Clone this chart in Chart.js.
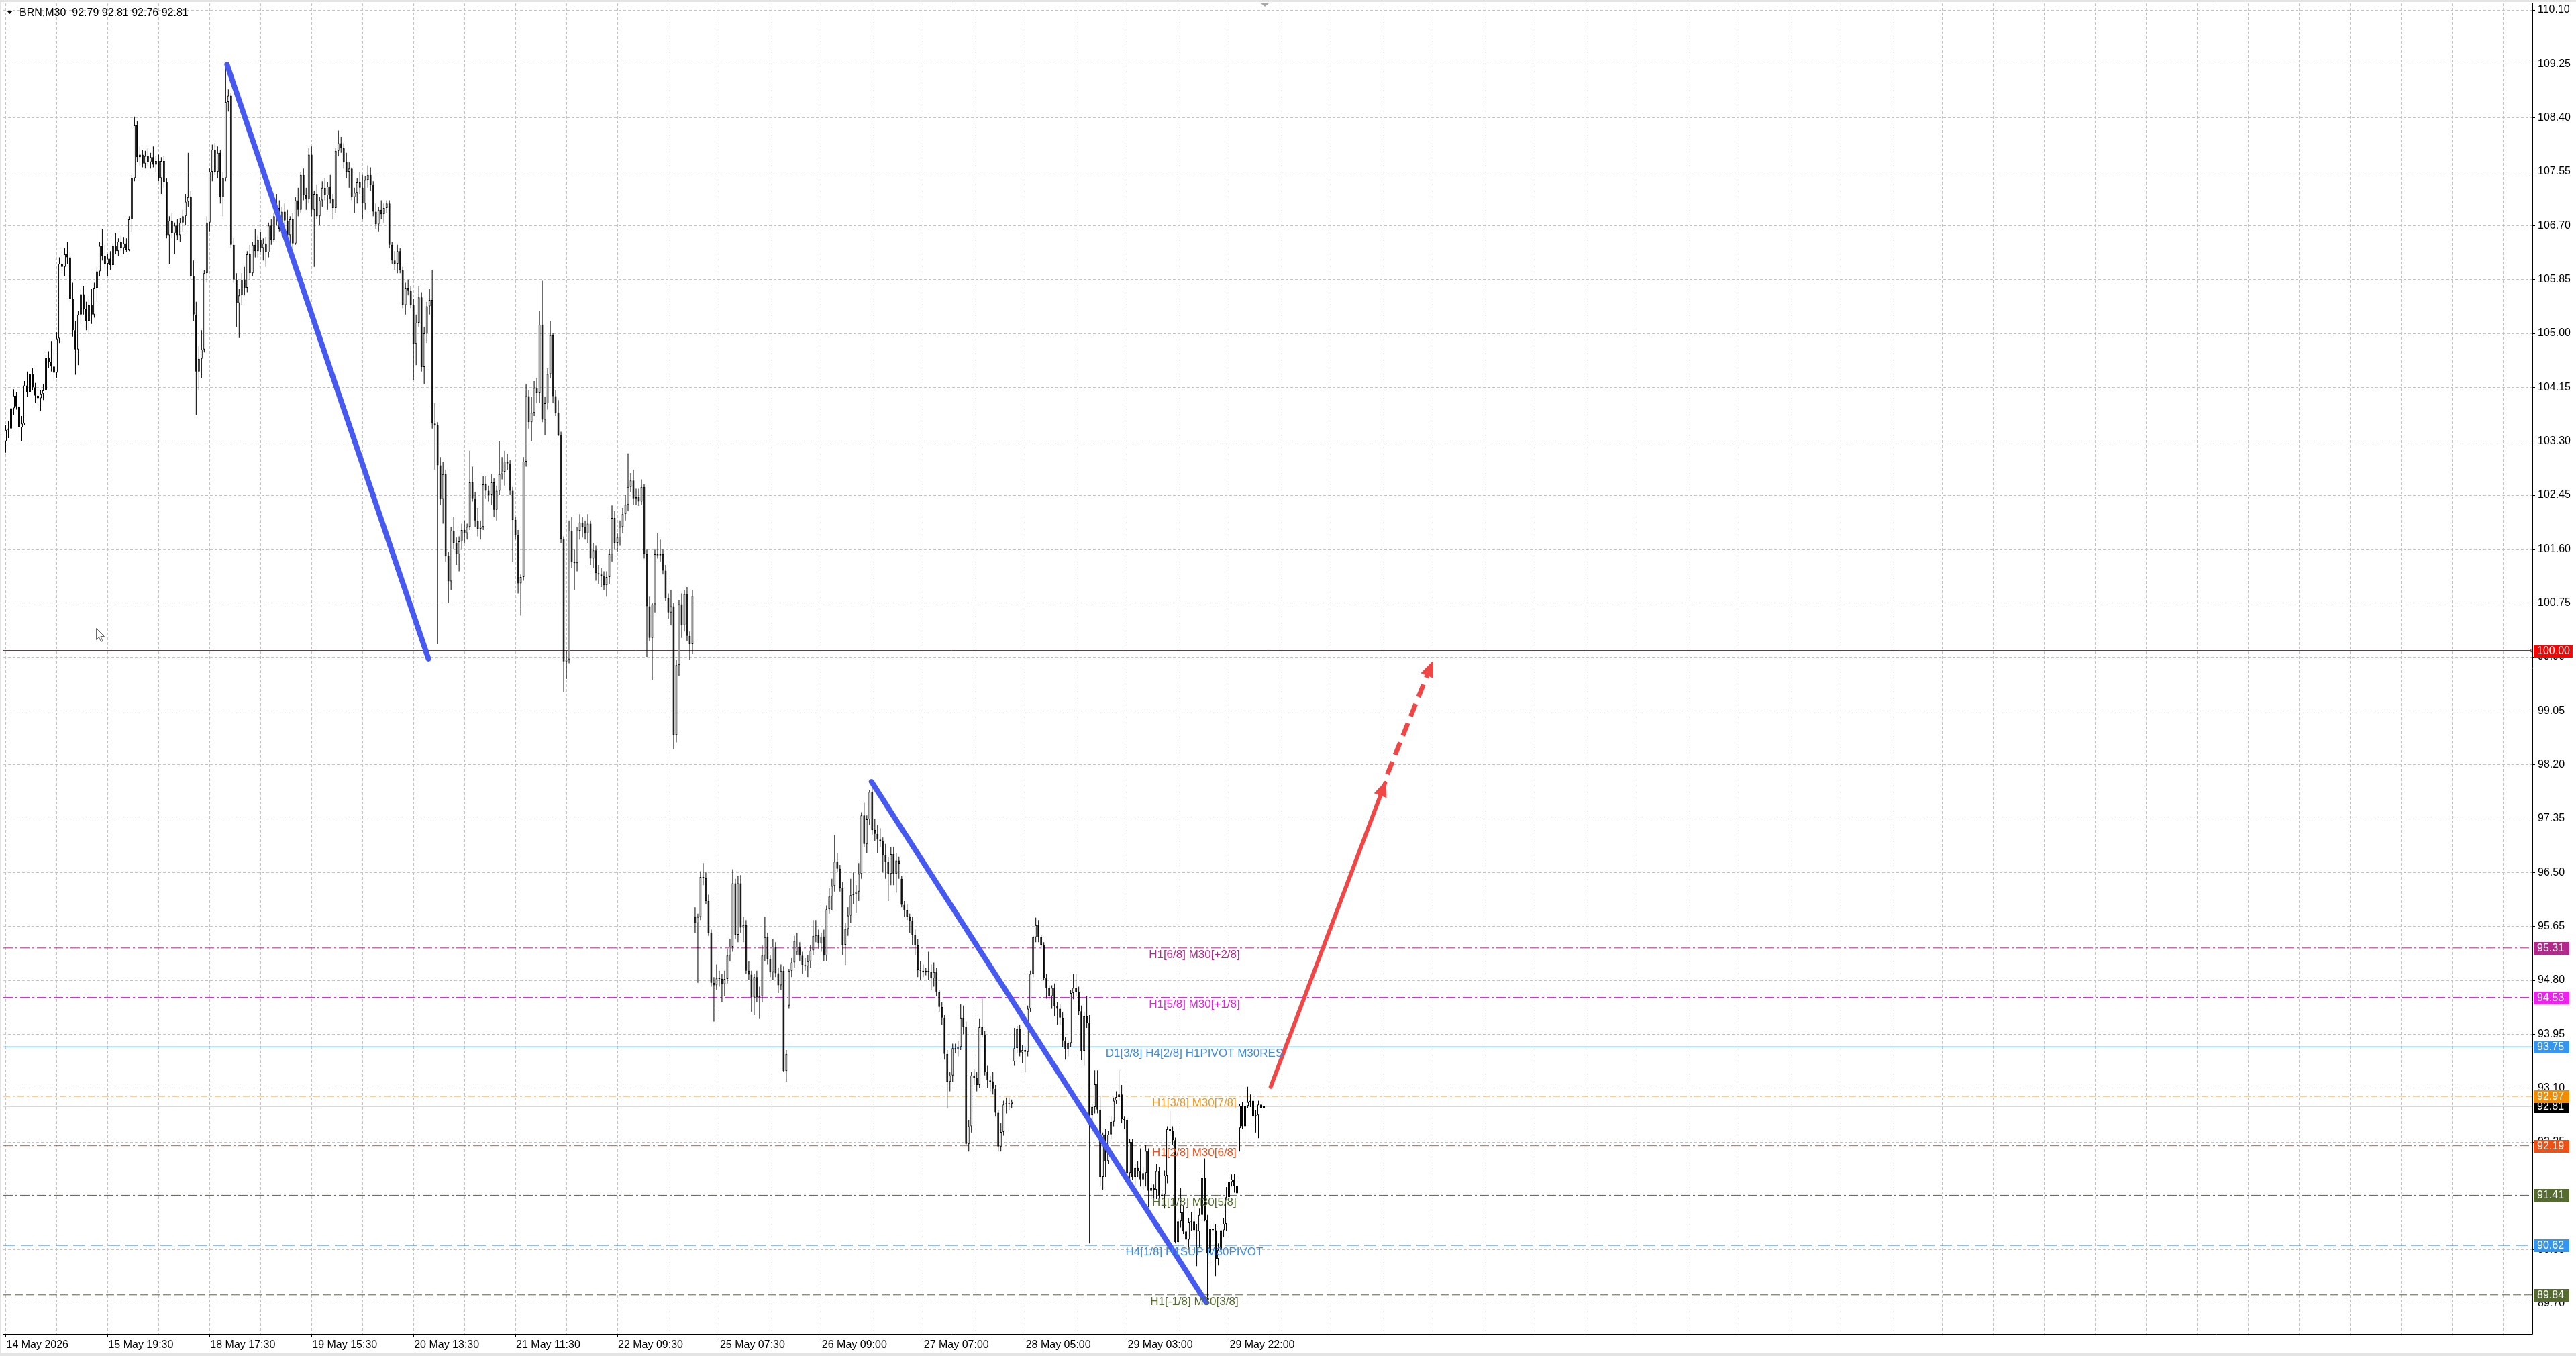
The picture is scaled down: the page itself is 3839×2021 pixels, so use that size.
<!DOCTYPE html>
<html>
<head>
<meta charset="utf-8">
<title>BRN,M30</title>
<script src="https://cdn.jsdelivr.net/npm/chart.js@4.4.1/dist/chart.umd.min.js"></script>
<style>
html, body { margin: 0; padding: 0; background: #ffffff; overflow: hidden; }
canvas { display: block; }
</style>
</head>
<body>
<canvas id="chart" width="3839" height="2021"></canvas>
<script>
"use strict";

// Values, one entry per bar
var symbolName = "BRN,M30";

var timeLabels = [ "14 May 2026", "15 May 19:30", "18 May 17:30", "19 May 15:30", "20 May 13:30",
	"21 May 11:30", "22 May 09:30", "25 May 07:30", "26 May 09:00", "27 May 07:00",
	"28 May 05:00", "29 May 03:00", "29 May 22:00" ];

var priceTicks = [ 110.10, 109.25, 108.40, 107.55, 106.70, 105.85, 105.00, 104.15, 103.30, 102.45,
	101.60, 100.75, 99.90, 99.05, 98.20, 97.35, 96.50, 95.65, 94.80, 93.95, 93.10, 92.25, 91.40, 90.55, 89.70 ];

var opens = [
	103.30,103.48,103.50,103.82,104.02,103.85,103.52,103.58,104.18,104.08,
	104.36,104.15,104.02,103.98,104.05,104.10,104.62,104.55,104.48,104.38,
	104.92,106.10,106.05,106.25,106.20,105.55,105.05,104.75,105.30,105.62,
	105.38,105.20,105.45,105.30,105.72,105.98,106.38,106.22,106.10,106.18,
	106.08,106.38,106.30,106.45,106.35,106.42,106.32,106.80,107.45,108.28,
	107.78,107.82,107.68,107.80,107.70,107.78,107.66,107.72,107.45,107.72,
	107.38,106.55,106.78,106.58,106.70,106.55,106.75,106.85,107.08,107.15,
	105.90,105.30,104.40,104.60,104.75,105.95,106.75,107.55,107.90,107.55,
	107.85,107.15,107.45,108.65,108.75,106.40,105.85,105.48,105.60,105.85,
	105.72,106.25,105.95,106.40,106.30,106.48,106.35,106.42,106.28,106.70,
	106.48,106.85,106.98,106.65,106.92,106.78,106.55,106.80,106.42,107.10,
	106.95,107.50,107.18,107.12,107.82,106.95,107.20,106.85,107.10,107.30,
	107.18,107.32,107.12,106.98,107.88,108.00,107.92,107.70,107.55,107.60,
	107.15,107.22,107.38,107.30,107.05,107.42,107.50,107.35,106.92,106.72,
	106.95,106.88,106.98,107.05,106.40,106.15,106.10,106.30,106.00,105.45,
	105.72,105.68,105.45,104.84,105.17,105.57,104.47,105.00,105.43,105.53,
	103.58,103.55,102.92,102.39,102.78,101.49,101.09,101.89,101.70,101.52,
	101.72,101.90,101.85,101.95,102.65,102.40,102.05,101.92,101.95,102.62,
	102.52,102.45,102.65,102.22,102.52,102.78,102.82,102.98,102.95,102.52,
	102.06,101.82,101.06,101.16,102.98,104.01,103.60,103.75,104.14,104.07,
	105.14,103.64,103.90,104.36,104.97,104.01,103.75,103.40,101.76,99.83,
	99.86,101.89,101.40,101.38,101.89,102.02,101.95,101.85,102.00,101.45,
	101.58,101.22,101.20,101.18,101.03,101.16,101.52,102.09,101.70,101.78,
	101.95,102.15,102.30,102.58,102.68,102.40,102.42,102.35,102.58,101.52,
	100.70,100.20,100.73,101.52,101.50,101.52,101.26,100.82,100.60,100.70,
	98.67,99.77,100.73,100.40,100.89,100.23,100.10,95.80,95.70,95.80,
	96.43,96.41,96.05,95.55,94.76,94.72,94.83,94.82,94.74,94.82,
	95.19,95.33,96.33,95.52,96.33,95.63,95.67,94.95,94.89,94.53,
	94.85,94.53,94.55,95.19,95.48,95.14,94.93,95.33,94.91,94.72,
	94.95,93.37,94.40,94.95,95.08,95.25,95.33,95.19,95.04,95.02,
	95.10,95.27,95.50,95.51,95.38,95.49,95.19,95.92,96.12,96.29,
	96.67,96.56,96.26,95.36,95.61,95.82,96.14,96.16,96.20,96.48,
	97.40,96.95,97.34,97.77,97.17,97.11,97.02,97.00,96.77,96.67,
	96.48,96.79,96.48,96.69,96.40,95.99,95.90,95.80,95.73,95.52,
	95.35,94.97,94.95,94.93,94.95,94.93,94.83,94.93,94.61,94.38,
	94.21,93.64,93.20,93.30,93.73,93.71,93.75,94.21,94.07,92.22,
	92.50,93.30,93.26,93.15,94.06,93.94,93.35,93.22,93.20,93.09,
	92.71,92.18,92.41,92.84,92.86,92.85,93.52,93.73,94.03,93.66,
	93.70,93.67,94.35,94.90,95.48,95.67,95.48,95.36,94.84,94.68,
	94.55,94.68,94.39,94.35,94.21,93.85,93.71,93.81,94.60,94.68,
	94.62,94.31,93.69,94.23,94.13,92.67,92.80,93.16,92.76,91.70,
	92.37,91.95,92.37,92.57,92.90,92.96,93.00,92.61,92.60,91.76,
	92.25,91.70,91.84,91.79,91.66,91.76,92.11,91.48,91.52,91.50,
	91.79,91.40,91.42,91.72,92.45,92.43,92.28,90.67,91.00,91.14,
	90.84,90.71,90.98,91.00,90.86,90.84,91.10,91.68,91.02,90.49,
	90.88,90.86,90.41,90.55,90.86,90.96,91.38,91.62,91.66,91.56,
	92.47,92.82,92.50,92.82,92.88,92.90,92.65,92.67,92.84,92.79 ];

var highs = [
	103.55,103.62,103.88,104.12,104.08,103.90,103.70,104.25,104.40,104.42,
	104.45,104.22,104.15,104.10,104.20,104.70,104.72,104.88,104.75,105.02,
	106.20,106.30,106.35,106.45,106.28,105.80,105.20,105.35,105.70,105.75,
	105.50,105.55,105.70,105.80,106.05,106.45,106.65,106.40,106.25,106.30,
	106.42,106.58,106.50,106.55,106.52,106.50,106.85,107.50,108.42,108.35,
	107.95,107.90,107.88,107.92,107.85,107.95,107.80,107.82,107.78,107.80,
	107.45,106.85,106.90,106.75,106.80,106.82,106.95,107.20,107.85,107.25,
	106.15,105.50,104.80,105.05,106.00,106.85,107.60,107.98,108.00,107.95,
	107.90,107.55,109.24,108.85,108.80,106.50,105.95,105.70,105.95,106.05,
	106.30,106.40,106.45,106.65,106.55,106.60,106.50,106.52,106.75,106.80,
	106.90,107.20,107.10,107.00,107.05,106.95,106.85,106.90,107.15,107.30,
	107.55,107.60,107.30,107.92,107.95,107.25,107.35,107.15,107.40,107.45,
	107.38,107.50,107.20,107.92,108.20,108.10,108.00,107.85,107.70,107.62,
	107.30,107.45,107.55,107.50,107.48,107.65,107.62,107.40,107.05,107.00,
	107.10,107.05,107.10,107.10,106.45,106.30,106.40,106.35,106.05,105.80,
	105.85,105.75,105.55,105.30,105.75,105.65,105.10,105.50,105.70,106.00,
	103.90,103.60,103.05,102.98,102.85,101.55,101.95,102.10,101.78,101.80,
	102.00,102.05,102.00,103.15,102.90,102.50,102.25,102.05,102.75,102.75,
	102.60,102.78,102.72,102.60,103.30,103.05,103.15,103.10,103.00,102.58,
	102.10,101.90,101.20,103.05,104.20,104.10,104.00,104.25,104.30,105.35,
	105.83,104.00,104.45,105.20,105.00,104.10,103.95,103.45,101.80,100.00,
	102.05,102.10,101.60,101.95,102.15,102.10,102.05,102.15,102.05,101.70,
	101.65,101.35,101.30,101.25,101.25,101.60,102.29,102.20,101.85,102.05,
	102.25,102.45,103.11,102.80,102.85,102.55,102.55,102.70,102.62,101.60,
	100.85,100.75,101.60,101.85,101.75,101.60,101.35,100.90,100.95,100.75,
	99.85,100.80,100.90,100.95,101.00,100.30,100.95,95.95,95.85,96.52,
	96.65,96.50,96.15,95.60,94.85,95.05,94.95,94.90,94.95,95.30,
	95.45,96.55,96.40,96.45,96.46,95.80,95.75,95.10,94.95,94.90,
	94.95,94.70,95.35,95.80,95.55,95.20,95.45,95.40,95.00,95.05,
	95.02,93.70,94.98,95.15,95.50,95.55,95.40,95.25,95.15,95.20,
	95.35,95.75,95.75,95.60,95.55,95.60,95.98,96.25,96.40,97.09,
	96.80,96.62,96.35,95.70,95.95,96.40,96.50,96.30,96.65,97.45,
	97.60,97.40,97.80,97.85,97.35,97.25,97.20,97.05,96.95,96.75,
	96.90,96.90,96.80,96.75,96.45,96.05,96.00,95.85,95.80,95.60,
	95.45,95.10,95.05,95.00,95.25,95.05,95.08,95.00,94.65,94.45,
	94.25,93.70,93.35,93.80,93.80,93.85,94.42,94.40,94.15,92.60,
	93.35,93.40,93.35,94.20,94.51,94.00,93.45,93.30,93.35,93.15,
	92.75,92.55,92.90,92.95,92.95,92.92,94.05,94.08,94.10,93.78,
	93.75,94.40,94.95,95.50,95.79,95.75,95.52,95.40,94.90,94.72,
	94.72,94.75,94.45,94.42,94.30,93.90,93.85,94.65,94.90,94.90,
	94.70,94.40,94.30,94.55,94.25,92.85,93.38,93.38,92.98,92.40,
	92.45,92.42,92.65,92.95,93.05,93.38,93.15,92.65,92.62,92.30,
	92.30,91.90,91.95,92.15,91.85,92.20,92.15,91.60,91.58,91.90,
	91.85,91.50,91.80,92.50,92.74,92.50,92.32,91.05,91.52,91.25,
	90.90,91.05,91.15,91.30,90.95,91.20,91.75,91.99,91.10,90.95,
	91.00,90.95,90.65,90.95,91.05,91.54,91.75,91.74,91.75,91.65,
	92.85,92.88,92.88,93.12,93.00,93.05,92.75,92.90,93.02,92.81 ];

var lows = [
	103.12,103.35,103.45,103.72,103.80,103.40,103.30,103.55,104.00,104.05,
	104.10,103.90,103.88,103.78,103.95,104.05,104.45,104.40,104.25,104.30,
	104.85,105.95,105.90,106.10,105.50,104.95,104.35,104.50,105.15,105.30,
	105.05,105.00,105.15,105.25,105.50,105.90,106.15,106.02,105.90,106.00,
	106.05,106.25,106.22,106.30,106.25,106.28,106.30,106.60,107.40,107.70,
	107.65,107.62,107.60,107.65,107.60,107.62,107.55,107.40,107.20,107.30,
	106.50,106.10,106.50,106.25,106.48,106.45,106.60,106.70,107.00,105.85,
	105.20,103.72,104.10,104.30,104.70,105.80,106.60,107.40,107.50,107.45,
	107.05,106.85,107.40,108.50,106.35,105.80,105.10,104.93,105.45,105.60,
	105.65,105.85,105.90,106.20,106.20,106.28,106.15,106.05,106.20,106.40,
	106.45,106.70,106.60,106.55,106.70,106.45,106.30,106.35,106.40,106.85,
	106.90,107.10,106.95,107.05,106.85,106.05,106.80,106.70,107.00,107.10,
	106.95,107.05,106.80,106.90,107.80,107.85,107.60,107.45,107.30,107.10,
	106.90,107.05,107.20,106.80,106.95,107.30,107.25,106.85,106.65,106.60,
	106.80,106.75,106.90,106.35,106.10,106.00,105.95,105.95,105.40,105.30,
	105.60,105.40,104.27,104.50,105.10,104.40,104.20,104.85,105.30,103.50,
	102.85,100.10,102.30,102.00,101.40,100.75,100.95,101.60,101.35,101.25,
	101.60,101.70,101.75,101.90,102.35,101.95,101.80,101.75,101.90,102.40,
	102.35,102.30,102.10,102.05,102.45,102.70,102.60,102.85,102.45,101.40,
	101.75,100.90,100.55,101.10,102.90,103.50,103.30,103.70,103.90,103.90,
	103.60,103.40,103.80,104.30,103.90,103.70,103.38,101.70,99.34,99.55,
	99.80,101.30,100.95,101.25,101.75,101.78,101.75,101.70,101.35,101.30,
	101.10,101.05,101.00,100.95,100.85,101.05,101.40,101.60,101.55,101.65,
	101.85,102.05,102.20,102.50,102.30,102.30,102.28,102.30,101.45,99.90,
	100.15,99.54,100.60,101.45,101.40,101.20,100.78,100.50,100.40,98.44,
	98.55,99.60,100.20,100.30,100.15,99.85,99.95,95.55,94.76,95.75,
	96.30,96.00,95.50,94.70,94.15,94.65,94.70,94.45,94.55,94.75,
	95.10,95.25,95.45,95.40,95.55,95.40,94.90,94.80,94.30,94.25,
	94.45,94.20,94.45,95.10,95.05,94.85,94.80,94.85,94.60,94.65,
	93.35,93.20,94.35,94.85,95.00,95.20,95.10,94.90,94.95,94.85,
	95.00,95.20,95.40,95.30,95.25,95.10,95.10,95.85,95.90,96.20,
	96.50,96.20,95.20,95.04,95.50,95.70,96.00,95.86,96.05,96.40,
	96.90,96.80,97.25,97.10,97.00,96.80,96.90,96.50,96.40,96.05,
	96.30,96.30,96.18,96.40,95.95,95.80,95.75,95.55,95.35,95.20,
	94.85,94.80,94.85,94.88,94.80,94.65,94.70,94.55,94.30,94.10,
	93.55,92.78,93.05,93.20,93.65,93.60,93.70,93.95,92.20,92.10,
	92.40,93.15,93.05,93.10,93.90,93.30,93.10,93.05,93.00,92.65,
	92.10,92.10,92.35,92.70,92.75,92.78,93.45,93.65,93.60,93.50,
	93.35,93.60,94.30,94.85,95.40,95.40,95.30,94.80,94.51,94.50,
	94.35,94.23,94.10,94.10,93.75,93.55,93.60,93.75,94.50,94.55,
	94.25,93.54,93.45,94.05,90.65,92.40,92.70,92.70,91.55,91.50,
	91.70,91.90,92.30,92.50,92.85,92.90,92.55,92.45,91.70,91.55,
	91.65,91.55,91.70,91.55,91.50,91.55,91.22,91.35,91.30,91.35,
	91.35,91.25,91.20,91.60,92.35,92.20,90.65,90.55,90.90,90.80,
	90.45,90.55,90.85,90.75,90.29,90.60,91.00,91.00,89.72,90.30,
	90.70,90.13,90.30,90.40,90.75,90.85,91.30,91.55,91.45,91.35,
	92.10,92.45,92.13,92.78,92.80,92.55,92.40,92.31,92.75,92.76 ];

var closes = [
	103.48,103.50,103.82,104.02,103.85,103.52,103.58,104.18,104.08,104.36,
	104.15,104.02,103.98,104.05,104.10,104.62,104.55,104.48,104.38,104.92,
	106.10,106.05,106.25,106.20,105.55,105.05,104.75,105.30,105.62,105.38,
	105.20,105.45,105.30,105.72,105.98,106.38,106.22,106.10,106.18,106.08,
	106.38,106.30,106.45,106.35,106.42,106.32,106.80,107.45,108.28,107.78,
	107.82,107.68,107.80,107.70,107.78,107.66,107.72,107.45,107.72,107.38,
	106.55,106.78,106.58,106.70,106.55,106.75,106.85,107.08,107.15,105.90,
	105.30,104.40,104.60,104.75,105.95,106.75,107.55,107.90,107.55,107.85,
	107.15,107.45,108.65,108.75,106.40,105.85,105.48,105.60,105.85,105.72,
	106.25,105.95,106.40,106.30,106.48,106.35,106.42,106.28,106.70,106.48,
	106.85,106.98,106.65,106.92,106.78,106.55,106.80,106.42,107.10,106.95,
	107.50,107.18,107.12,107.82,106.95,107.20,106.85,107.10,107.30,107.18,
	107.32,107.12,106.98,107.88,108.00,107.92,107.70,107.55,107.60,107.15,
	107.22,107.38,107.30,107.05,107.42,107.50,107.35,106.92,106.72,106.95,
	106.88,106.98,107.05,106.40,106.15,106.10,106.30,106.00,105.45,105.72,
	105.68,105.45,104.84,105.17,105.57,104.47,105.00,105.43,105.53,103.58,
	103.55,102.92,102.39,102.78,101.49,101.09,101.89,101.70,101.52,101.72,
	101.90,101.85,101.95,102.65,102.40,102.05,101.92,101.95,102.62,102.52,
	102.45,102.65,102.22,102.52,102.78,102.82,102.98,102.95,102.52,102.06,
	101.82,101.06,101.16,102.98,104.01,103.60,103.75,104.14,104.07,105.14,
	103.64,103.90,104.36,104.97,104.01,103.75,103.40,101.76,99.83,99.86,
	101.89,101.40,101.38,101.89,102.02,101.95,101.85,102.00,101.45,101.58,
	101.22,101.20,101.18,101.03,101.16,101.52,102.09,101.70,101.78,101.95,
	102.15,102.30,102.58,102.68,102.40,102.42,102.35,102.58,101.52,100.70,
	100.20,100.73,101.52,101.50,101.52,101.26,100.82,100.60,100.70,98.67,
	99.77,100.73,100.40,100.89,100.23,100.10,100.86,95.70,95.80,96.43,
	96.41,96.05,95.55,94.76,94.72,94.83,94.82,94.74,94.82,95.19,
	95.33,96.33,95.52,96.33,95.63,95.67,94.95,94.89,94.53,94.85,
	94.53,94.55,95.19,95.48,95.14,94.93,95.33,94.91,94.72,94.95,
	93.37,93.64,94.95,95.08,95.42,95.33,95.19,95.04,95.02,95.10,
	95.27,95.50,95.51,95.38,95.49,95.19,95.92,96.12,96.29,96.67,
	96.56,96.26,95.36,95.61,95.82,96.14,96.16,96.20,96.48,97.40,
	96.95,97.34,97.77,97.17,97.11,97.02,97.00,96.77,96.67,96.48,
	96.79,96.48,96.69,96.64,95.99,95.90,95.80,95.73,95.52,95.35,
	94.97,94.95,94.93,94.95,94.93,94.83,94.93,94.61,94.38,94.21,
	93.64,93.20,93.30,93.73,93.71,93.75,94.21,94.07,92.22,92.50,
	93.30,93.26,93.15,94.06,93.94,93.35,93.22,93.20,93.09,92.71,
	92.18,92.41,92.84,92.86,92.85,92.88,93.73,94.03,93.66,93.70,
	93.67,94.35,94.90,95.48,95.67,95.48,95.36,94.84,94.68,94.55,
	94.68,94.39,94.35,94.21,93.85,93.71,93.81,94.60,94.68,94.62,
	94.31,93.69,94.23,94.13,92.67,92.80,93.16,92.76,91.70,92.37,
	91.95,92.37,92.57,92.90,92.96,93.00,92.61,92.60,91.76,92.25,
	91.70,91.84,91.79,91.66,91.76,92.11,91.48,91.52,91.50,91.79,
	91.40,91.42,91.72,92.45,92.43,92.28,90.67,91.00,91.14,90.84,
	90.71,90.98,91.00,90.86,90.84,91.10,91.68,91.02,90.49,90.88,
	90.86,90.41,90.55,90.86,90.96,91.38,91.62,91.66,91.56,91.44,
	92.82,92.50,92.82,92.88,92.90,92.65,92.67,92.84,92.79,92.81 ];

// Murrey-style levels drawn on the chart, top to bottom
var levelPrices = [ 95.31, 94.53, 93.75, 92.97, 92.19, 91.41, 90.62, 89.84 ];
var levelNames = [ "H1[6/8] M30[+2/8]", "H1[5/8] M30[+1/8]", "D1[3/8] H4[2/8] H1PIVOT M30RES",
	"H1[3/8] M30[7/8]", "H1[2/8] M30[6/8]", "H1[1/8] M30[5/8]", "H4[1/8] H1SUP M30PIVOT", "H1[-1/8] M30[3/8]" ];
var alertPrice = 100.00;

// hand drawn objects, anchored in (bar, price)
var trendOne = [ { x: 82.5, y: 109.24 }, { x: 157.6, y: 99.87 } ];
var trendTwo = [ { x: 322.75, y: 97.93 }, { x: 447.55, y: 89.72 } ];
var targetSolid = [ { x: 471.55, y: 93.12 }, { x: 514.2, y: 97.91 } ];
var targetDashed = [ { x: 515.05, y: 98.05 }, { x: 531.7, y: 99.80 } ];
var levelLabelBar = 443.1;

// Layout and styles
var BARS_PER_LABEL = 38,
	BARS_PER_GRID = 19,
	X_MIN = -0.875,
	X_MAX = 941.875,
	Y_MIN = 89.224,
	Y_MAX = 110.206,
	BLUE = "#4659f0",
	RED = "#f04646",
	FONT = "\"Liberation Sans\", Arial, sans-serif";

var levelColors = [ "#b4288c", "#e61ee6", "#3c8ce6", "#f0961e", "#f0501e", "#556b2f", "#3c8ce6", "#556b2f" ];
var levelBoxColors = [ "#b4288c", "#ee22ee", "#3396f0", "#f28c00", "#f05014", "#556b2f", "#3396f0", "#556b2f" ];
var levelDashes = [ [ 14, 4, 3, 4 ], [ 14, 4, 3, 4 ], [], [ 10, 4, 3, 4 ], [ 14, 4, 3, 4 ], [ 14, 4, 3, 4 ], [ 18, 8 ], [ 12, 5 ] ];

var gridBars = [];
for ( var g = 0; g <= X_MAX; g += BARS_PER_GRID ) {
	gridBars.push( g );
}

var lastBar = closes.length - 1;
var barIndex = closes.map( function( c, i ) { return i; } );

function acrossChart( price ) {
	return [ { x: X_MIN, y: price }, { x: X_MAX, y: price } ];
}

function arrowHead( ctx, from, to, len, half ) {
	var a = Math.atan2( to.y - from.y, to.x - from.x ),
		cos = Math.cos( a ), sin = Math.sin( a ),
		tipX = to.x + cos * 4, tipY = to.y + sin * 4,
		bx = tipX - cos * len, by = tipY - sin * len;
	ctx.beginPath();
	ctx.moveTo( tipX, tipY );
	ctx.lineTo( bx - sin * half, by + cos * half );
	ctx.lineTo( bx + sin * half, by - cos * half );
	ctx.closePath();
	ctx.fill();
}

function priceBox( ctx, x, y, price, color ) {
	var txt = price.toFixed( 2 ),
		w = Math.max( 53, ctx.measureText( txt ).width + 9 );
	ctx.fillStyle = color;
	ctx.fillRect( x, Math.round( y ) - 9, w, 19 );
	ctx.fillStyle = "#ffffff";
	ctx.fillText( txt, x + 5, Math.round( y ) + 1 );
}

var terminalLook = {
	id: "terminalLook",
	beforeDraw: function( chart ) {
		var ctx = chart.ctx;
		ctx.save();
		ctx.fillStyle = "#ffffff";
		ctx.fillRect( 0, 0, chart.width, chart.height );
		ctx.fillStyle = "#e4e4e4";
		ctx.fillRect( 0, 0, chart.width, 3 );
		ctx.fillRect( 0, 0, 2, chart.height );
		ctx.fillRect( 0, chart.height - 5, chart.width, 5 );
		ctx.restore();
	},
	afterDatasetsDraw: function( chart ) {
		var ctx = chart.ctx,
			xs = chart.scales.x, ys = chart.scales.y,
			px = function( p ) { return { x: xs.getPixelForValue( p.x ), y: ys.getPixelForValue( p.y ) }; };

		ctx.save();
		// arrow heads of the target move
		ctx.fillStyle = RED;
		arrowHead( ctx, px( targetSolid[ 0 ] ), px( targetSolid[ 1 ] ), 24, 10 );
		arrowHead( ctx, px( targetDashed[ 0 ] ), px( targetDashed[ 1 ] ), 24, 10 );

		// level captions
		ctx.font = "17px " + FONT;
		ctx.textAlign = "center";
		ctx.textBaseline = "top";
		var lx = xs.getPixelForValue( levelLabelBar );
		levelPrices.forEach( function( p, i ) {
			ctx.fillStyle = levelColors[ i ];
			ctx.fillText( levelNames[ i ], lx, ys.getPixelForValue( p ) + 2 );
		} );
		ctx.restore();
	},
	afterDraw: function( chart ) {
		var ctx = chart.ctx,
			area = chart.chartArea,
			ys = chart.scales.y,
			boxX = area.right + 2;

		ctx.save();
		// chart frame
		ctx.strokeStyle = "#000000";
		ctx.lineWidth = 1;
		ctx.beginPath();
		ctx.moveTo( area.left - 0.5, area.bottom + 0.5 );
		ctx.lineTo( area.left - 0.5, area.top - 0.5 );
		ctx.lineTo( area.right + 0.5, area.top - 0.5 );
		ctx.lineTo( area.right + 0.5, area.bottom + 0.5 );
		ctx.lineTo( area.left - 0.5, area.bottom + 0.5 );
		ctx.stroke();

		// price tags on the right scale
		ctx.font = "16px " + FONT;
		ctx.textAlign = "left";
		ctx.textBaseline = "middle";
		priceBox( ctx, boxX, ys.getPixelForValue( closes[ lastBar ] ), closes[ lastBar ], "#000000" );
		priceBox( ctx, boxX, ys.getPixelForValue( alertPrice ), alertPrice, "#ff0000" );
		levelPrices.forEach( function( p, i ) {
			priceBox( ctx, boxX, ys.getPixelForValue( p ), p, levelBoxColors[ i ] );
		} );

		// symbol header
		ctx.fillStyle = "#000000";
		ctx.beginPath();
		ctx.moveTo( 10, 16 );
		ctx.lineTo( 19, 16 );
		ctx.lineTo( 14.5, 21 );
		ctx.closePath();
		ctx.fill();
		ctx.textBaseline = "alphabetic";
		ctx.fillText( symbolName + "  " + [ opens[ lastBar ], highs[ lastBar ], lows[ lastBar ], closes[ lastBar ] ]
			.map( function( v ) { return v.toFixed( 2 ); } ).join( " " ), 29, 24 );

		// chart shift marker
		ctx.fillStyle = "#a8a8a8";
		ctx.beginPath();
		ctx.moveTo( 1879, 5 );
		ctx.lineTo( 1891, 5 );
		ctx.lineTo( 1885, 10 );
		ctx.closePath();
		ctx.fill();

		// mouse pointer left on the chart
		ctx.translate( 143.5, 936.5 );
		ctx.beginPath();
		ctx.moveTo( 0, 0 );
		ctx.lineTo( 0, 17 );
		ctx.lineTo( 4, 13 );
		ctx.lineTo( 7, 20 );
		ctx.lineTo( 9.5, 19 );
		ctx.lineTo( 6.5, 12 );
		ctx.lineTo( 12, 12 );
		ctx.closePath();
		ctx.fillStyle = "#ffffff";
		ctx.fill();
		ctx.strokeStyle = "#6a6a6a";
		ctx.stroke();
		ctx.restore();
	}
};

Chart.defaults.font.family = FONT;
Chart.defaults.font.size = 16;
Chart.defaults.color = "#000000";

var datasets = [];

levelPrices.forEach( function( p, i ) {
	datasets.push( { type: "line", data: acrossChart( p ), borderColor: levelColors[ i ], borderWidth: 1,
		borderDash: levelDashes[ i ], pointRadius: 0, order: 10 } );
} );
datasets.push( { type: "line", data: acrossChart( alertPrice ), borderColor: "#d00000", borderWidth: 1,
	pointRadius: [ 0, 3 ], pointStyle: "rect", pointBackgroundColor: "#ffffff", pointBorderColor: "#d00000",
	pointBorderWidth: 1, order: 10 } );
datasets.push( { type: "line", data: acrossChart( closes[ lastBar ] ), borderColor: "#bcbcbc", borderWidth: 1,
	pointRadius: 0, order: 10 } );

// candle wicks, then bodies on top
datasets.push( {
	type: "bar",
	data: barIndex.map( function( i ) { return { x: i, y: [ lows[ i ], highs[ i ] ] }; } ),
	backgroundColor: "#000000",
	borderWidth: 0,
	barThickness: 1,
	grouped: false,
	inflateAmount: 0,
	order: 6
} );
datasets.push( {
	type: "bar",
	data: barIndex.map( function( i ) { return { x: i, y: [ opens[ i ], closes[ i ] ] }; } ),
	backgroundColor: barIndex.map( function( i ) { return closes[ i ] >= opens[ i ] ? "#ffffff" : "#000000"; } ),
	borderColor: "#000000",
	borderWidth: 1,
	borderSkipped: false,
	barThickness: 3,
	minBarLength: 1,
	grouped: false,
	inflateAmount: 0,
	order: 5
} );

// drawn trend lines and the projected move
datasets.push( { type: "line", data: trendOne, borderColor: BLUE, borderWidth: 8, borderCapStyle: "round", pointRadius: 0, order: 1 } );
datasets.push( { type: "line", data: trendTwo, borderColor: BLUE, borderWidth: 8, borderCapStyle: "round", pointRadius: 0, order: 1 } );
datasets.push( { type: "line", data: targetSolid, borderColor: RED, borderWidth: 6, borderCapStyle: "round", pointRadius: 0, order: 0 } );
datasets.push( { type: "line", data: targetDashed, borderColor: RED, borderWidth: 7, borderDash: [ 20, 11 ], borderCapStyle: "butt", pointRadius: 0, order: 0 } );

new Chart( document.getElementById( "chart" ), {
	type: "bar",
	data: { datasets: datasets },
	plugins: [ terminalLook ],
	options: {
		responsive: false,
		animation: false,
		devicePixelRatio: 1,
		events: [],
		layout: { padding: { left: 3, top: 5, right: 0, bottom: 0 } },
		plugins: { legend: { display: false }, tooltip: { enabled: false } },
		scales: {
			x: {
				type: "linear",
				position: "bottom",
				min: X_MIN,
				max: X_MAX,
				offset: false,
				grid: {
					offset: false,
					color: "#c4c4c4",
					lineWidth: 1,
					drawTicks: true,
					tickLength: 5,
					tickWidth: 1,
					tickBorderDash: [],
					tickColor: function( c ) {
						var v = c.tick ? c.tick.value : -1;
						return v % BARS_PER_LABEL === 0 && v / BARS_PER_LABEL < timeLabels.length ? "#000000" : "rgba(0,0,0,0)";
					}
				},
				border: { display: false, dash: [ 4, 3 ] },
				ticks: {
					autoSkip: false,
					maxRotation: 0,
					minRotation: 0,
					align: "start",
					labelOffset: 1,
					padding: 2,
					callback: function( v ) {
						return v % BARS_PER_LABEL === 0 && timeLabels[ v / BARS_PER_LABEL ] ? timeLabels[ v / BARS_PER_LABEL ] : "";
					}
				},
				afterBuildTicks: function( s ) {
					s.ticks = gridBars.map( function( v ) { return { value: v }; } );
				},
				afterFit: function( s ) {
					s.height = 33;
					s.paddingLeft = 0;
					s.paddingRight = 0;
				}
			},
			y: {
				type: "linear",
				position: "right",
				min: Y_MIN,
				max: Y_MAX,
				beginAtZero: false,
				grid: {
					color: "#c4c4c4",
					lineWidth: 1,
					tickLength: 4,
					tickWidth: 1,
					tickColor: "#000000",
					tickBorderDash: []
				},
				border: { display: false, dash: [ 4, 3 ] },
				ticks: {
					autoSkip: false,
					padding: 4,
					callback: function( v ) { return v.toFixed( 2 ); }
				},
				afterBuildTicks: function( s ) {
					s.ticks = priceTicks.map( function( v ) { return { value: v }; } );
				},
				afterFit: function( s ) {
					s.width = 65;
					s.paddingTop = 0;
					s.paddingBottom = 0;
				}
			}
		}
	}
} );
</script>
</body>
</html>
